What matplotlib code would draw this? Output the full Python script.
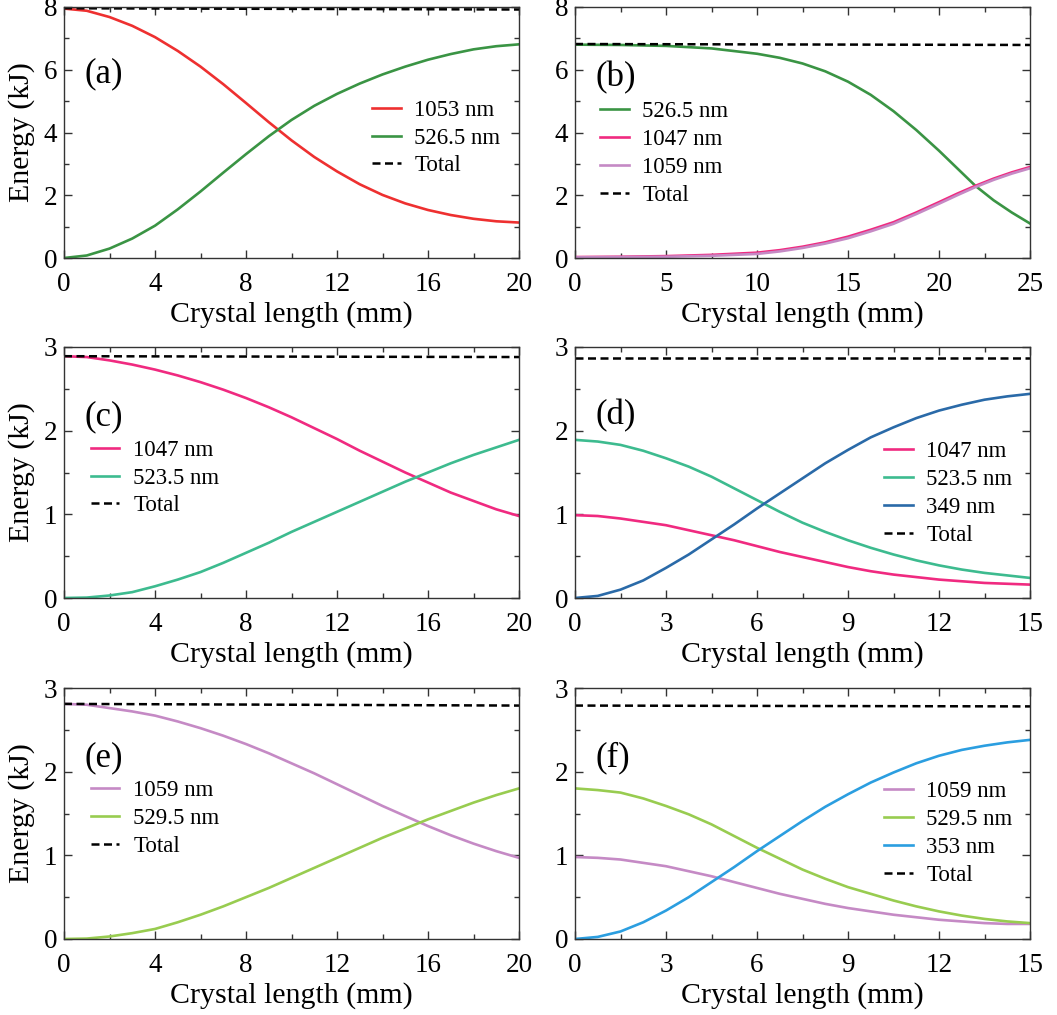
import numpy as np
import matplotlib
matplotlib.use("Agg")
import matplotlib.pyplot as plt
from matplotlib.ticker import MultipleLocator

plt.rcParams['font.family'] = ['Liberation Serif', 'DejaVu Serif']

# colours
c1053 = "#ee3030"
c5265 = "#3a9444"
c1047 = "#f02a80"
c1059 = "#c58ac5"
c5235 = "#3dbb8f"
c349 = "#2a6aa8"
c5295 = "#98cc50"
c353 = "#2b9ee0"

# (a) 1053 nm doubling
xa = [0, 1, 2, 3, 4, 5, 6, 7, 8, 9, 10, 11, 12, 13, 14, 15, 16, 17, 18, 19, 20]
a_1053 = [7.95, 7.88, 7.68, 7.40, 7.04, 6.60, 6.10, 5.54, 4.94, 4.33, 3.75, 3.22, 2.76, 2.35, 2.01, 1.74, 1.53, 1.37, 1.25, 1.17, 1.13]
a_5265 = [0.0, 0.08, 0.30, 0.62, 1.03, 1.55, 2.12, 2.72, 3.31, 3.88, 4.40, 4.85, 5.23, 5.56, 5.85, 6.10, 6.32, 6.50, 6.65, 6.75, 6.81]
a_total = [7.96, 7.92]

# (b) OPA
xb = [0, 2.5, 5, 7.5, 10, 11.25, 12.5, 13.75, 15, 16.25, 17.5, 18.75, 20, 21, 22, 23, 24, 25]
b_5265 = [6.80, 6.79, 6.76, 6.68, 6.51, 6.38, 6.20, 5.95, 5.62, 5.20, 4.68, 4.08, 3.42, 2.86, 2.30, 1.84, 1.45, 1.10]
b_1047 = [0.03, 0.04, 0.06, 0.10, 0.17, 0.25, 0.36, 0.50, 0.68, 0.90, 1.14, 1.45, 1.78, 2.05, 2.30, 2.53, 2.73, 2.90]
b_1059 = [0.02, 0.03, 0.04, 0.07, 0.13, 0.21, 0.32, 0.46, 0.63, 0.85, 1.09, 1.40, 1.73, 2.00, 2.26, 2.49, 2.69, 2.86]
b_total = [6.82, 6.79]

# (c) 1047 nm doubling
xc = [0, 1, 2, 3, 4, 5, 6, 7, 8, 9, 10, 11, 12, 13, 14, 15, 16, 17, 18, 19, 20]
c_1047 = [2.89, 2.88, 2.84, 2.79, 2.73, 2.66, 2.58, 2.49, 2.39, 2.28, 2.16, 2.03, 1.90, 1.76, 1.63, 1.50, 1.38, 1.26, 1.16, 1.06, 0.98]
c_5235 = [0.0, 0.005, 0.03, 0.07, 0.14, 0.22, 0.31, 0.42, 0.54, 0.66, 0.79, 0.91, 1.03, 1.15, 1.27, 1.39, 1.50, 1.61, 1.71, 1.80, 1.89]
c_total = [2.89, 2.88]

# (d) 1047 + 523.5 -> 349 nm
xd = [0, 0.75, 1.5, 2.25, 3, 3.75, 4.5, 5.25, 6, 6.75, 7.5, 8.25, 9, 9.75, 10.5, 11.25, 12, 12.75, 13.5, 14.25, 15]
d_1047 = [0.99, 0.98, 0.95, 0.91, 0.87, 0.81, 0.75, 0.69, 0.62, 0.55, 0.49, 0.43, 0.37, 0.32, 0.28, 0.25, 0.22, 0.20, 0.18, 0.17, 0.16]
d_5235 = [1.89, 1.87, 1.83, 1.76, 1.67, 1.57, 1.45, 1.31, 1.17, 1.03, 0.90, 0.79, 0.69, 0.60, 0.52, 0.45, 0.39, 0.34, 0.30, 0.27, 0.24]
d_349 = [0.0, 0.025, 0.10, 0.21, 0.36, 0.52, 0.70, 0.88, 1.07, 1.25, 1.43, 1.61, 1.77, 1.92, 2.04, 2.15, 2.24, 2.31, 2.37, 2.41, 2.44]
d_total = [2.87, 2.87]

# (e) 1059 nm doubling
xe = [0, 1, 2, 3, 4, 5, 6, 7, 8, 9, 10, 11, 12, 13, 14, 15, 16, 17, 18, 19, 20]
e_1059 = [2.81, 2.80, 2.76, 2.72, 2.67, 2.60, 2.52, 2.43, 2.33, 2.22, 2.10, 1.98, 1.85, 1.72, 1.59, 1.47, 1.35, 1.24, 1.14, 1.05, 0.97]
e_5295 = [0.0, 0.005, 0.03, 0.07, 0.12, 0.20, 0.29, 0.39, 0.50, 0.61, 0.73, 0.85, 0.97, 1.09, 1.21, 1.32, 1.43, 1.53, 1.63, 1.72, 1.80]
e_total = [2.81, 2.79]

# (f) 1059 + 529.5 -> 353 nm
xf = [0, 0.75, 1.5, 2.25, 3, 3.75, 4.5, 5.25, 6, 6.75, 7.5, 8.25, 9, 9.75, 10.5, 11.25, 12, 12.75, 13.5, 14.25, 15]
f_1059 = [0.98, 0.97, 0.95, 0.91, 0.87, 0.81, 0.75, 0.68, 0.61, 0.54, 0.48, 0.42, 0.37, 0.33, 0.29, 0.26, 0.23, 0.21, 0.19, 0.18, 0.18]
f_5295 = [1.80, 1.78, 1.75, 1.68, 1.59, 1.49, 1.37, 1.23, 1.09, 0.96, 0.83, 0.72, 0.62, 0.54, 0.46, 0.39, 0.33, 0.28, 0.24, 0.21, 0.19]
f_353 = [0.0, 0.025, 0.09, 0.20, 0.34, 0.50, 0.68, 0.86, 1.05, 1.23, 1.41, 1.58, 1.73, 1.87, 1.99, 2.10, 2.19, 2.26, 2.31, 2.35, 2.38]
f_total = [2.79, 2.78]

LW = 1.9
TICK_FS = 19.5
LABEL_FS = 21.5
LEG_FS = 16.5
PANEL_FS = 25

fig = plt.figure(figsize=(10.57, 10.15), dpi=100)

col_left = [64 / 1057, 575 / 1057]
w = 455 / 1057
row_bottom = [1 - 258 / 1015, 1 - 598 / 1015, 1 - 939 / 1015]
h = 251 / 1015


def style(ax, xmax, xmaj, ymax, ymaj, ylabel):
    ax.set_xlim(0, xmax)
    ax.set_ylim(0, ymax)
    ax.xaxis.set_major_locator(MultipleLocator(xmaj))
    ax.xaxis.set_minor_locator(MultipleLocator(xmaj / 2))
    ax.yaxis.set_major_locator(MultipleLocator(ymaj))
    ax.yaxis.set_minor_locator(MultipleLocator(ymaj / 2))
    ax.tick_params(which='both', direction='in', top=True, right=True,
                   labelsize=TICK_FS, color='#333333', width=1.0)
    ax.tick_params(which='major', length=5.5)
    ax.tick_params(which='minor', length=3.5)
    ax.tick_params(axis='x', which='major', pad=10)
    ax.tick_params(axis='y', which='major', pad=5)
    for s in ax.spines.values():
        s.set_color('#333333')
        s.set_linewidth(1.0)
    ax.set_xlabel('Crystal length (mm)', fontsize=LABEL_FS, labelpad=3)
    if ylabel:
        ax.set_ylabel('Energy (kJ)', fontsize=LABEL_FS, labelpad=6)


def total_line(ax, xmax, vals):
    ax.plot([0, xmax], vals, '--', color='black', lw=1.8, label='Total', dashes=(3.2, 1.8))


def legend(ax, left, center):
    ax.legend(loc='center left', bbox_to_anchor=(left, center), frameon=False,
              fontsize=LEG_FS, borderpad=0, borderaxespad=0, handlelength=1.25,
              handletextpad=0.6, labelspacing=0.3)


def panel_label(ax, txt, x, y):
    ax.text(x, y, txt, transform=ax.transAxes, fontsize=PANEL_FS, ha='left', va='center')


# (a)
ax = fig.add_axes([col_left[0], row_bottom[0], w, h])
ax.plot(xa, a_1053, color=c1053, lw=LW, label='1053 nm')
ax.plot(xa, a_5265, color=c5265, lw=LW, label='526.5 nm')
total_line(ax, 20, a_total)
style(ax, 20, 4, 8, 2, True)
legend(ax, 0.677, 0.478)
panel_label(ax, '(a)', 0.044, 0.735)

# (b)
ax = fig.add_axes([col_left[1], row_bottom[0], w, h])
ax.plot(xb, b_5265, color=c5265, lw=LW, label='526.5 nm')
ax.plot(xb, b_1047, color=c1047, lw=LW, label='1047 nm')
ax.plot(xb, b_1059, color=c1059, lw=LW, label='1059 nm')
total_line(ax, 25, b_total)
style(ax, 25, 5, 8, 2, False)
legend(ax, 0.055, 0.416)
panel_label(ax, '(b)', 0.046, 0.72)

# (c)
ax = fig.add_axes([col_left[0], row_bottom[1], w, h])
ax.plot(xc, c_1047, color=c1047, lw=LW, label='1047 nm')
ax.plot(xc, c_5235, color=c5235, lw=LW, label='523.5 nm')
total_line(ax, 20, c_total)
style(ax, 20, 4, 3, 1, True)
legend(ax, 0.059, 0.478)
panel_label(ax, '(c)', 0.044, 0.72)

# (d)
ax = fig.add_axes([col_left[1], row_bottom[1], w, h])
ax.plot(xd, d_1047, color=c1047, lw=LW, label='1047 nm')
ax.plot(xd, d_5235, color=c5235, lw=LW, label='523.5 nm')
ax.plot(xd, d_349, color=c349, lw=LW, label='349 nm')
total_line(ax, 15, d_total)
style(ax, 15, 3, 3, 1, False)
legend(ax, 0.679, 0.416)
panel_label(ax, '(d)', 0.046, 0.725)

# (e)
ax = fig.add_axes([col_left[0], row_bottom[2], w, h])
ax.plot(xe, e_1059, color=c1059, lw=LW, label='1059 nm')
ax.plot(xe, e_5295, color=c5295, lw=LW, label='529.5 nm')
total_line(ax, 20, e_total)
style(ax, 20, 4, 3, 1, True)
legend(ax, 0.059, 0.48)
panel_label(ax, '(e)', 0.044, 0.72)

# (f)
ax = fig.add_axes([col_left[1], row_bottom[2], w, h])
ax.plot(xf, f_1059, color=c1059, lw=LW, label='1059 nm')
ax.plot(xf, f_5295, color=c5295, lw=LW, label='529.5 nm')
ax.plot(xf, f_353, color=c353, lw=LW, label='353 nm')
total_line(ax, 15, f_total)
style(ax, 15, 3, 3, 1, False)
legend(ax, 0.679, 0.419)
panel_label(ax, '(f)', 0.046, 0.72)

fig.savefig('out.png', dpi=100)
